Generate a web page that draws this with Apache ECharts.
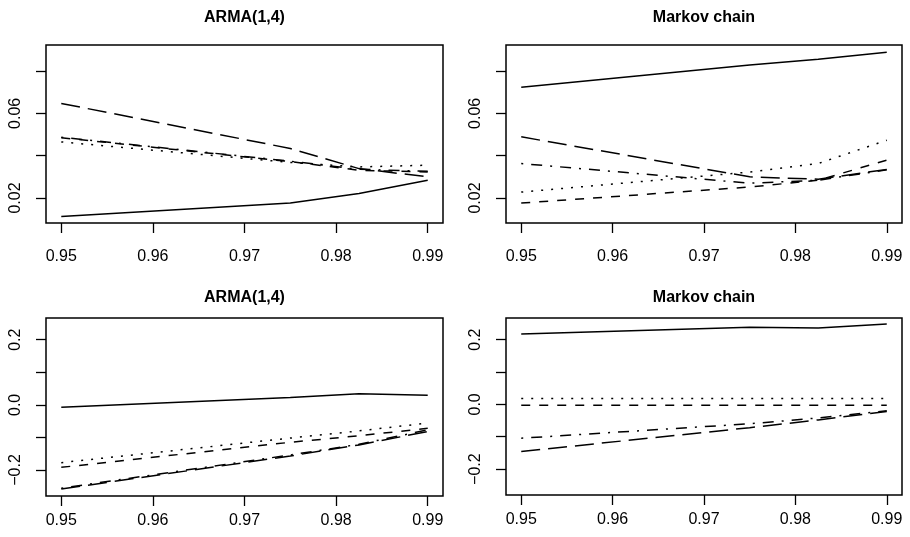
<!DOCTYPE html>
<html>
<head>
<meta charset="utf-8">
<script src="https://cdn.jsdelivr.net/npm/echarts@6/dist/echarts.min.js"></script>
<style>html,body{margin:0;padding:0;background:#fff;}#c{width:910px;height:537px;}</style>
</head>
<body>
<div id="c"></div>
<script>
// x positions (confidence levels)
const xValues = [0.95, 0.975, 0.9825, 0.99];
const xTicks = [0.95, 0.96, 0.97, 0.98, 0.99];
const topYTicks = [0.02, 0.04, 0.06, 0.08];
const topYLabels = [0.02, 0.06];
const botYTicks = [-0.2, -0.1, 0.0, 0.1, 0.2];
const botYLabels = [-0.2, 0.0, 0.2];
const titles = ["ARMA(1,4)", "Markov chain", "ARMA(1,4)", "Markov chain"];

// Panel 1: ARMA(1,4), top
const armaTopSolid    = [0.0113, 0.0176, 0.0221, 0.0284];
const armaTopLongdash = [0.0647, 0.0434, 0.0339, 0.0300];
const armaTopDashed   = [0.0485, 0.0372, 0.0331, 0.0323];
const armaTopDotdash  = [0.0487, 0.0374, 0.0336, 0.0326];
const armaTopDotted   = [0.0465, 0.0368, 0.0347, 0.0355];

// Panel 2: Markov chain, top
const mcTopSolid    = [0.0723, 0.0829, 0.0856, 0.0889];
const mcTopLongdash = [0.0489, 0.0300, 0.0289, 0.0335];
const mcTopDashed   = [0.0176, 0.0252, 0.0284, 0.0379];
const mcTopDotdash  = [0.0363, 0.0270, 0.0284, 0.0333];
const mcTopDotted   = [0.0228, 0.0323, 0.0363, 0.0473];

// Panel 3: ARMA(1,4), bottom
const armaBotSolid    = [-0.0072, 0.0225, 0.0338, 0.0298];
const armaBotLongdash = [-0.2585, -0.1570, -0.1230, -0.0820];
const armaBotDashed   = [-0.1920, -0.1150, -0.0950, -0.0720];
const armaBotDotdash  = [-0.2560, -0.1540, -0.1210, -0.0770];
const armaBotDotted   = [-0.1775, -0.1020, -0.0800, -0.0560];

// Panel 4: Markov chain, bottom
const mcBotSolid    = [0.2175, 0.2380, 0.2360, 0.2480];
const mcBotLongdash = [-0.1456, -0.0720, -0.0480, -0.0220];
const mcBotDashed   = [-0.0030, -0.0030, -0.0030, -0.0030];
const mcBotDotdash  = [-0.1046, -0.0600, -0.0420, -0.0200];
const mcBotDotted   = [0.0185, 0.0185, 0.0185, 0.0185];

const panels = [
  [armaTopSolid, armaTopLongdash, armaTopDashed, armaTopDotdash, armaTopDotted],
  [mcTopSolid, mcTopLongdash, mcTopDashed, mcTopDotdash, mcTopDotted],
  [armaBotSolid, armaBotLongdash, armaBotDashed, armaBotDotdash, armaBotDotted],
  [mcBotSolid, mcBotLongdash, mcBotDashed, mcBotDotdash, mcBotDotted]
];
const dashTypes = ['solid', [19, 8], [9, 9], [2, 8, 11, 8], [2, 8]];

const FONT = "'Liberation Sans', Arial, Helvetica, sans-serif";
const grids = [
  {left: 46, top: 45, width: 397, height: 178},
  {left: 506, top: 45, width: 396, height: 178},
  {left: 46, top: 318, width: 397, height: 178},
  {left: 506, top: 318, width: 396, height: 177}
];
const titleCenters = [[239.5, 5], [699, 5], [239.5, 285], [699, 285]];
const xLabelMargins = [26, 26, 17, 17];

function fmtTop(v){ return v.toFixed(2); }
function fmtBot(v){ return (v < -1e-9 ? '\u2212' : '') + Math.abs(v).toFixed(1); }

const tickStyle = {color: '#000', width: 1.3};
const option = {
  backgroundColor: '#fff',
  animation: false,
  title: titles.map((t, i) => ({
    text: t, left: titleCenters[i][0], top: titleCenters[i][1], textAlign: 'center',
    textStyle: {fontFamily: FONT, fontSize: 16, fontWeight: 'bold', color: '#000'}
  })),
  grid: grids.map(g => Object.assign({show: true, borderColor: '#000', borderWidth: 1.5, backgroundColor: 'transparent'}, g)),
  xAxis: grids.map((g, i) => ({
    type: 'value', gridIndex: i, min: 0.948333, max: 0.991667, position: 'bottom',
    axisLine: {show: false, onZero: false},
    splitLine: {show: false},
    axisTick: {show: true, customValues: xTicks, length: 10, lineStyle: tickStyle},
    axisLabel: {customValues: xTicks, margin: xLabelMargins[i], formatter: v => v.toFixed(2),
      fontFamily: FONT, fontSize: 16, color: '#000'}
  })),
  yAxis: grids.map((g, i) => {
    const top = i < 2;
    return {
      type: 'value', gridIndex: i, position: 'left',
      min: top ? 0.0082 : -0.28, max: top ? 0.0923 : 0.2668,
      axisLine: {show: false, onZero: false},
      splitLine: {show: false},
      axisTick: {show: true, customValues: top ? topYTicks : botYTicks, length: 10, lineStyle: tickStyle},
      axisLabel: {customValues: top ? topYLabels : botYLabels, rotate: 90, margin: 22,
        formatter: top ? fmtTop : fmtBot, fontFamily: FONT, fontSize: 16, color: '#000'}
    };
  }),
  series: []
};
panels.forEach((lines, p) => {
  lines.forEach((vals, k) => {
    option.series.push({
      type: 'line', xAxisIndex: p, yAxisIndex: p,
      data: xValues.map((x, j) => [x, vals[j]]),
      showSymbol: false, symbol: 'none',
      lineStyle: {color: '#000', width: 1.5, type: dashTypes[k]},
      z: 2
    });
  });
});
const chart = echarts.init(document.getElementById('c'), null, {renderer: 'canvas'});
chart.setOption(option);
</script>
</body>
</html>
